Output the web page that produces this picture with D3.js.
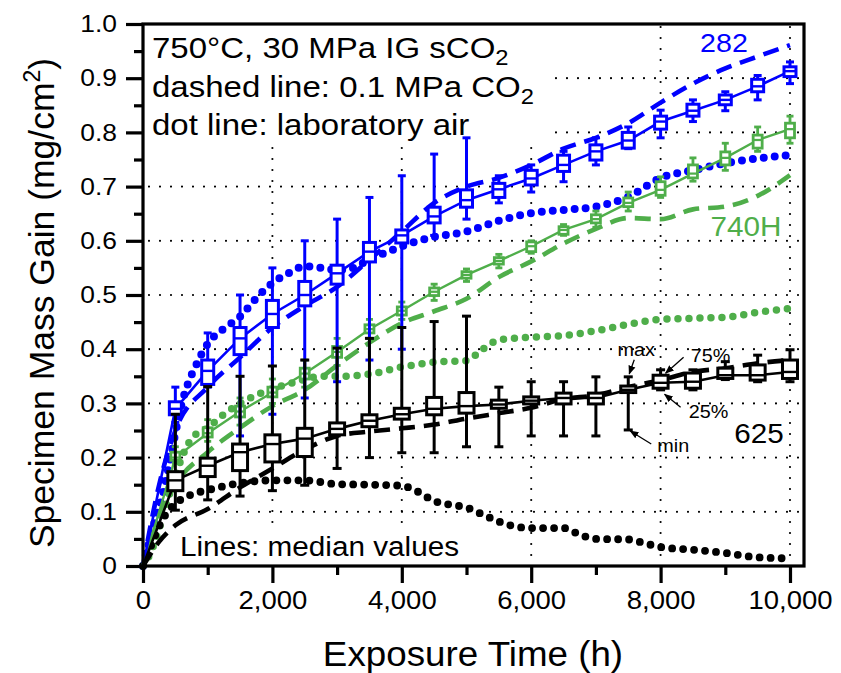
<!DOCTYPE html>
<html><head><meta charset="utf-8">
<script src="https://cdn.jsdelivr.net/npm/d3@7"></script>
<style>body{margin:0;background:#fff}svg{display:block}text{font-family:"Liberation Sans",Arial,Helvetica,sans-serif;fill:#000}</style>
</head><body><svg id="c" width="841" height="673"></svg>
<script>
// ---------- DATA ----------
const boxTimes = [500,1000,1500,2000,2500,3000,3500,4000,4500,5000,5500,6000,6500,7000,7500,8000,8500,9000,9500,10000];

// 282 (blue), 30 MPa sCO2 box statistics
const blueMin = [0.265,0.33,0.24,0.28,0.31,0.34,0.38,0.40,0.61,0.64,0.67,0.69,0.709,0.74,0.77,0.79,0.82,0.84,0.86,0.89];
const blueQ1  = [0.279,0.335,0.39,0.44,0.48,0.52,0.561,0.596,0.633,0.662,0.68,0.703,0.728,0.749,0.771,0.806,0.83,0.851,0.875,0.903];
const blueMed = [0.29,0.36,0.42,0.465,0.50,0.54,0.58,0.61,0.645,0.675,0.695,0.715,0.74,0.765,0.785,0.82,0.84,0.86,0.885,0.913];
const blueQ3  = [0.303,0.38,0.44,0.49,0.525,0.555,0.597,0.62,0.662,0.694,0.706,0.73,0.758,0.777,0.80,0.83,0.852,0.869,0.898,0.921];
const blueMax = [0.33,0.43,0.50,0.55,0.60,0.64,0.68,0.72,0.76,0.79,0.72,0.74,0.765,0.79,0.81,0.841,0.86,0.875,0.905,0.93];

// 740H (green)
const greenMin = [0.19,0.23,0.26,0.30,0.33,0.37,0.42,0.455,0.49,0.525,0.55,0.577,0.61,0.625,0.655,0.68,0.71,0.73,0.765,0.78];
const greenQ1  = [0.195,0.238,0.275,0.312,0.345,0.385,0.43,0.463,0.499,0.531,0.557,0.58,0.612,0.633,0.663,0.684,0.716,0.74,0.771,0.79];
const greenMed = [0.20,0.245,0.285,0.32,0.355,0.395,0.437,0.471,0.506,0.537,0.563,0.59,0.62,0.64,0.67,0.694,0.724,0.753,0.786,0.806];
const greenQ3  = [0.21,0.255,0.295,0.33,0.365,0.405,0.445,0.478,0.513,0.543,0.569,0.598,0.626,0.648,0.679,0.709,0.74,0.764,0.795,0.817];
const greenMax = [0.22,0.27,0.31,0.345,0.38,0.42,0.455,0.487,0.52,0.548,0.575,0.60,0.63,0.655,0.69,0.718,0.753,0.78,0.81,0.83];

// 625 (black)
const blackMin = [0.103,0.122,0.129,0.139,0.149,0.18,0.20,0.209,0.209,0.22,0.22,0.24,0.24,0.24,0.251,0.325,0.325,0.344,0.34,0.34];
const blackQ1  = [0.139,0.165,0.176,0.192,0.202,0.242,0.257,0.271,0.279,0.282,0.291,0.299,0.299,0.299,0.32,0.328,0.328,0.346,0.343,0.346];
const blackMed = [0.158,0.185,0.21,0.225,0.235,0.253,0.268,0.28,0.29,0.295,0.298,0.305,0.31,0.31,0.325,0.338,0.34,0.352,0.352,0.358];
const blackQ3  = [0.174,0.199,0.225,0.242,0.254,0.264,0.279,0.291,0.311,0.32,0.306,0.312,0.319,0.319,0.332,0.352,0.356,0.365,0.371,0.38];
const blackMax = [0.28,0.331,0.35,0.369,0.38,0.402,0.42,0.44,0.451,0.461,0.33,0.34,0.34,0.349,0.349,0.362,0.362,0.377,0.389,0.399];

// 0.1 MPa CO2 (dashed)
const dashTimes = [0,250,500,1000,1500,2000,2500,3000,3500,4000,4500,5000,5500,6000,6500,7000,7500,8000,8500,9000,9500,10000];
const blueDash  = [0,0.15,0.25,0.33,0.385,0.44,0.48,0.515,0.565,0.617,0.67,0.70,0.716,0.74,0.77,0.79,0.817,0.855,0.89,0.918,0.94,0.961];
const greenDash = [0,0.09,0.15,0.21,0.255,0.295,0.325,0.37,0.412,0.448,0.47,0.493,0.533,0.562,0.595,0.622,0.642,0.64,0.658,0.663,0.683,0.721];
const blackDash = [0,0.045,0.075,0.105,0.145,0.18,0.215,0.24,0.248,0.254,0.261,0.272,0.282,0.292,0.308,0.315,0.33,0.343,0.358,0.365,0.374,0.38];

// laboratory air (dotted)
const blueAirTimes = [0,100,200,300,400,500,600,700,800,900,1000,1250,1500,1750,2000,2250,2500,2750,3000,3250,3500,3750,4000,4500,5000,5500,6000,6500,7000,7500,8000,8500,9000,9500,10000];
const blueAir = [0,0.045,0.09,0.13,0.185,0.245,0.30,0.338,0.365,0.39,0.41,0.438,0.46,0.494,0.522,0.54,0.553,0.55,0.546,0.55,0.566,0.578,0.59,0.607,0.617,0.637,0.651,0.657,0.663,0.681,0.716,0.73,0.743,0.752,0.758];
const greenAirTimes = [0,100,200,300,400,500,600,750,1000,1250,1500,1750,2000,2250,2500,2750,3000,3500,4000,4500,5000,5250,5500,6000,6500,7000,7500,8000,8500,9000,9500,10000];
const greenAir = [0,0.02,0.05,0.09,0.13,0.165,0.2,0.235,0.255,0.28,0.30,0.315,0.327,0.336,0.344,0.35,0.35,0.354,0.367,0.376,0.379,0.40,0.417,0.422,0.425,0.434,0.446,0.455,0.457,0.459,0.468,0.475];
const blackAirTimes = [0,100,200,300,400,500,750,1000,1500,2000,2500,3000,3500,4000,4250,4500,4750,5000,5250,5500,5750,6000,6500,6750,7000,7500,7750,8000,8500,9000,9500,10000];
const blackAir = [0,0.03,0.06,0.085,0.103,0.115,0.132,0.14,0.153,0.158,0.158,0.151,0.15,0.148,0.137,0.12,0.113,0.108,0.095,0.082,0.073,0.07,0.07,0.058,0.05,0.049,0.042,0.035,0.03,0.024,0.016,0.014];

const xTicksMajor = [0,2000,4000,6000,8000,10000];
const xTicksMinor = [1000,3000,5000,7000,9000];
const yTicksMajor = [0,0.1,0.2,0.3,0.4,0.5,0.6,0.7,0.8,0.9,1.0];
const yTicksMinor = [0.05,0.15,0.25,0.35,0.45,0.55,0.65,0.75,0.85,0.95];
const xGrid = [2000,4000,6000,8000,10000];
const yGrid = [0.1,0.2,0.3,0.4,0.5,0.6,0.7,0.8,0.9];

// ---------- CHART ----------
const BLUE = "#0000ff", GREEN = "#4fae4a", BLACK = "#000";
const svg = d3.select("#c");
const x = d3.scaleLinear().domain([0,10000]).range([143,790]);
const y = d3.scaleLinear().domain([0,1]).range([566,24]);
const L = 143, R = 804, T = 24, B = 566;
const SX = 1.1;
function stretch(sel, k){ sel.each(function(){ const w=this.getComputedTextLength(); this.setAttribute("textLength", w*k); this.setAttribute("lengthAdjust","spacingAndGlyphs"); }); }

// grid
const grid = svg.append("g").attr("stroke","#000").attr("stroke-width",2.2).attr("stroke-linecap","round").attr("stroke-dasharray","0 11");
xGrid.forEach(t => grid.append("line").attr("x1",x(t)).attr("x2",x(t)).attr("y1",B).attr("y2",T));
yGrid.forEach(v => grid.append("line").attr("x1",L+6).attr("x2",R).attr("y1",y(v)).attr("y2",y(v)));

// white backgrounds behind text blocks
svg.append("rect").attr("x",L+2).attr("y",T+2).attr("width",403).attr("height",120).attr("fill","#fff");
svg.append("rect").attr("x",176).attr("y",528).attr("width",292).attr("height",36).attr("fill","#fff");

const line = (xs, vs, curve) => d3.line().curve(curve||d3.curveMonotoneX).x((d,i)=>x(xs[i])).y(d=>y(d))(vs);

// dotted (laboratory air)
[[blueAirTimes,blueAir,BLUE,8],[greenAirTimes,greenAir,GREEN,7.5],[blackAirTimes,blackAir,BLACK,7.8]].forEach(([ts,vs,c,w])=>{
  svg.append("path").attr("d",line(ts,vs)).attr("fill","none").attr("stroke",c).attr("stroke-width",w)
    .attr("stroke-linecap","round").attr("stroke-dasharray","0 11");
});
// dashed (0.1 MPa CO2)
[[blueDash,BLUE],[greenDash,GREEN],[blackDash,BLACK]].forEach(([vs,c])=>{
  svg.append("path").attr("d",line(dashTimes,vs)).attr("fill","none").attr("stroke",c).attr("stroke-width",4.6)
    .attr("stroke-dasharray","16 9");
});

// solid medians + boxes
function series(mins,q1s,meds,q3s,maxs,c,lw,bw,cw,sw){
  const g = svg.append("g");
  g.append("path").attr("d",line([0].concat(boxTimes),[0].concat(meds),d3.curveLinear)).attr("fill","none").attr("stroke",c).attr("stroke-width",lw);
  boxTimes.forEach((t,i)=>{
    const cx = x(t);
    g.append("line").attr("x1",cx).attr("x2",cx).attr("y1",y(maxs[i])).attr("y2",y(mins[i])).attr("stroke",c).attr("stroke-width",sw);
    [mins[i],maxs[i]].forEach(v=>g.append("line").attr("x1",cx-cw/2).attr("x2",cx+cw/2).attr("y1",y(v)).attr("y2",y(v)).attr("stroke",c).attr("stroke-width",sw));
    g.append("rect").attr("x",cx-bw/2).attr("y",y(q3s[i])).attr("width",bw).attr("height",Math.max(y(q1s[i])-y(q3s[i]),1))
      .attr("fill","#fff").attr("stroke",c).attr("stroke-width",sw);
    g.append("line").attr("x1",cx-bw/2).attr("x2",cx+bw/2).attr("y1",y(meds[i])).attr("y2",y(meds[i])).attr("stroke",c).attr("stroke-width",sw*0.8);
  });
}
series(greenMin,greenQ1,greenMed,greenQ3,greenMax,GREEN,2.4,9,7,2.8);
series(blueMin,blueQ1,blueMed,blueQ3,blueMax,BLUE,2.6,12,8,3);
series(blackMin,blackQ1,blackMed,blackQ3,blackMax,BLACK,2.6,15,9,3);

// frame
svg.append("rect").attr("x",L).attr("y",T).attr("width",R-L).attr("height",B-T).attr("fill","none").attr("stroke","#000").attr("stroke-width",3.2);

// axes
const fmtY = d => d===0 ? "0" : d3.format(".1f")(d);
const yAx = svg.append("g").attr("transform",`translate(${L},0)`)
  .call(d3.axisLeft(y).tickValues(yTicksMajor).tickSize(17).tickPadding(9).tickFormat(fmtY));
const yAxm = svg.append("g").attr("transform",`translate(${L},0)`)
  .call(d3.axisLeft(y).tickValues(yTicksMinor).tickSize(9).tickFormat(""));
const xAx = svg.append("g").attr("transform",`translate(0,${B})`)
  .call(d3.axisBottom(x).tickValues(xTicksMajor).tickSize(17).tickPadding(8).tickFormat(d3.format(",")));
const xAxm = svg.append("g").attr("transform",`translate(0,${B})`)
  .call(d3.axisBottom(x).tickValues(xTicksMinor).tickSize(9).tickFormat(""));
[yAx,yAxm,xAx,xAxm].forEach(a=>{ a.select(".domain").remove(); a.selectAll("line").attr("stroke","#000").attr("stroke-width",3.2); });
yAx.selectAll("text").attr("font-size",24).attr("font-family","Liberation Sans, Arial, sans-serif").call(stretch,SX);
xAx.selectAll("text").attr("font-size",25).attr("font-family","Liberation Sans, Arial, sans-serif").call(stretch,SX);

// axis titles
const xt = svg.append("text").attr("x",473).attr("y",666).attr("text-anchor","middle").attr("font-size",35).text("Exposure Time (h)");
xt.call(stretch,1.05);
const yt = svg.append("text").attr("transform",`translate(54,${(T+B)/2+8}) rotate(-90)`).attr("text-anchor","middle").attr("font-size",35.5);
yt.append("tspan").text("Specimen Mass Gain (mg/cm");
yt.append("tspan").attr("font-size",23).attr("dy",-14).text("2");
yt.append("tspan").attr("dy",14).text(")");

// text block
function subText(xp, yp, pre, sub, post, fs){
  const t = svg.append("text").attr("x",xp).attr("y",yp).attr("font-size",fs);
  t.append("tspan").text(pre);
  if (sub){ t.append("tspan").attr("font-size",fs*0.72).attr("dy",7).text(sub); t.append("tspan").attr("dy",-7).text(post||""); }
  t.call(stretch,SX);
  return t;
}
subText(152,58,"750°C, 30 MPa IG sCO","2","",30);
subText(152,97,"dashed line: 0.1 MPa CO","2","",30);
subText(152,135,"dot line: laboratory air",null,null,30);
subText(180,556,"Lines: median values",null,null,27);

// series labels
svg.append("text").attr("x",724).attr("y",52).attr("text-anchor","middle").attr("font-size",26).style("fill",BLUE).text("282").call(stretch,SX);
svg.append("text").attr("x",746).attr("y",236).attr("text-anchor","middle").attr("font-size",27).style("fill",GREEN).text("740H").call(stretch,SX);
svg.append("text").attr("x",759).attr("y",443).attr("text-anchor","middle").attr("font-size",27).text("625").call(stretch,SX);

// annotations (anchored to the 625 box statistics)
const defs = svg.append("defs");
defs.append("marker").attr("id","ah").attr("viewBox","0 0 10 10").attr("refX",9).attr("refY",5)
  .attr("markerWidth",9).attr("markerHeight",9).attr("orient","auto-start-reverse").attr("markerUnits","userSpaceOnUse")
  .append("path").attr("d","M0,1 L10,5 L0,9 z").attr("fill","#000");
function annot(label, tx, ty, ax, ay, bx, by){
  svg.append("text").attr("x",tx).attr("y",ty).attr("text-anchor","middle").attr("font-size",18).text(label).call(stretch,SX);
  svg.append("line").attr("x1",ax).attr("y1",ay).attr("x2",bx).attr("y2",by).attr("stroke","#000").attr("stroke-width",1.3).attr("marker-end","url(#ah)");
}
const i75 = boxTimes.indexOf(7500), i80 = boxTimes.indexOf(8000);
annot("max", x(7500)+8, y(blackMax[i75])-21, x(7500)+6, y(blackMax[i75])-17, x(7500)+1, y(blackMax[i75])-3);
annot("75%", x(8000)+50, y(blackQ3[i80])-13, x(8000)+23, y(blackQ3[i80])-18, x(8000)+5, y(blackQ3[i80])-2);
annot("25%", x(8000)+48, y(blackQ1[i80])+30, x(8000)+20, y(blackQ1[i80])+19, x(8000)+4, y(blackQ1[i80])+6);
annot("min", x(7500)+45, y(blackMin[i75])+22, x(7500)+23, y(blackMin[i75])+14, x(7500)+2, y(blackMin[i75])+1);
</script></body></html>
